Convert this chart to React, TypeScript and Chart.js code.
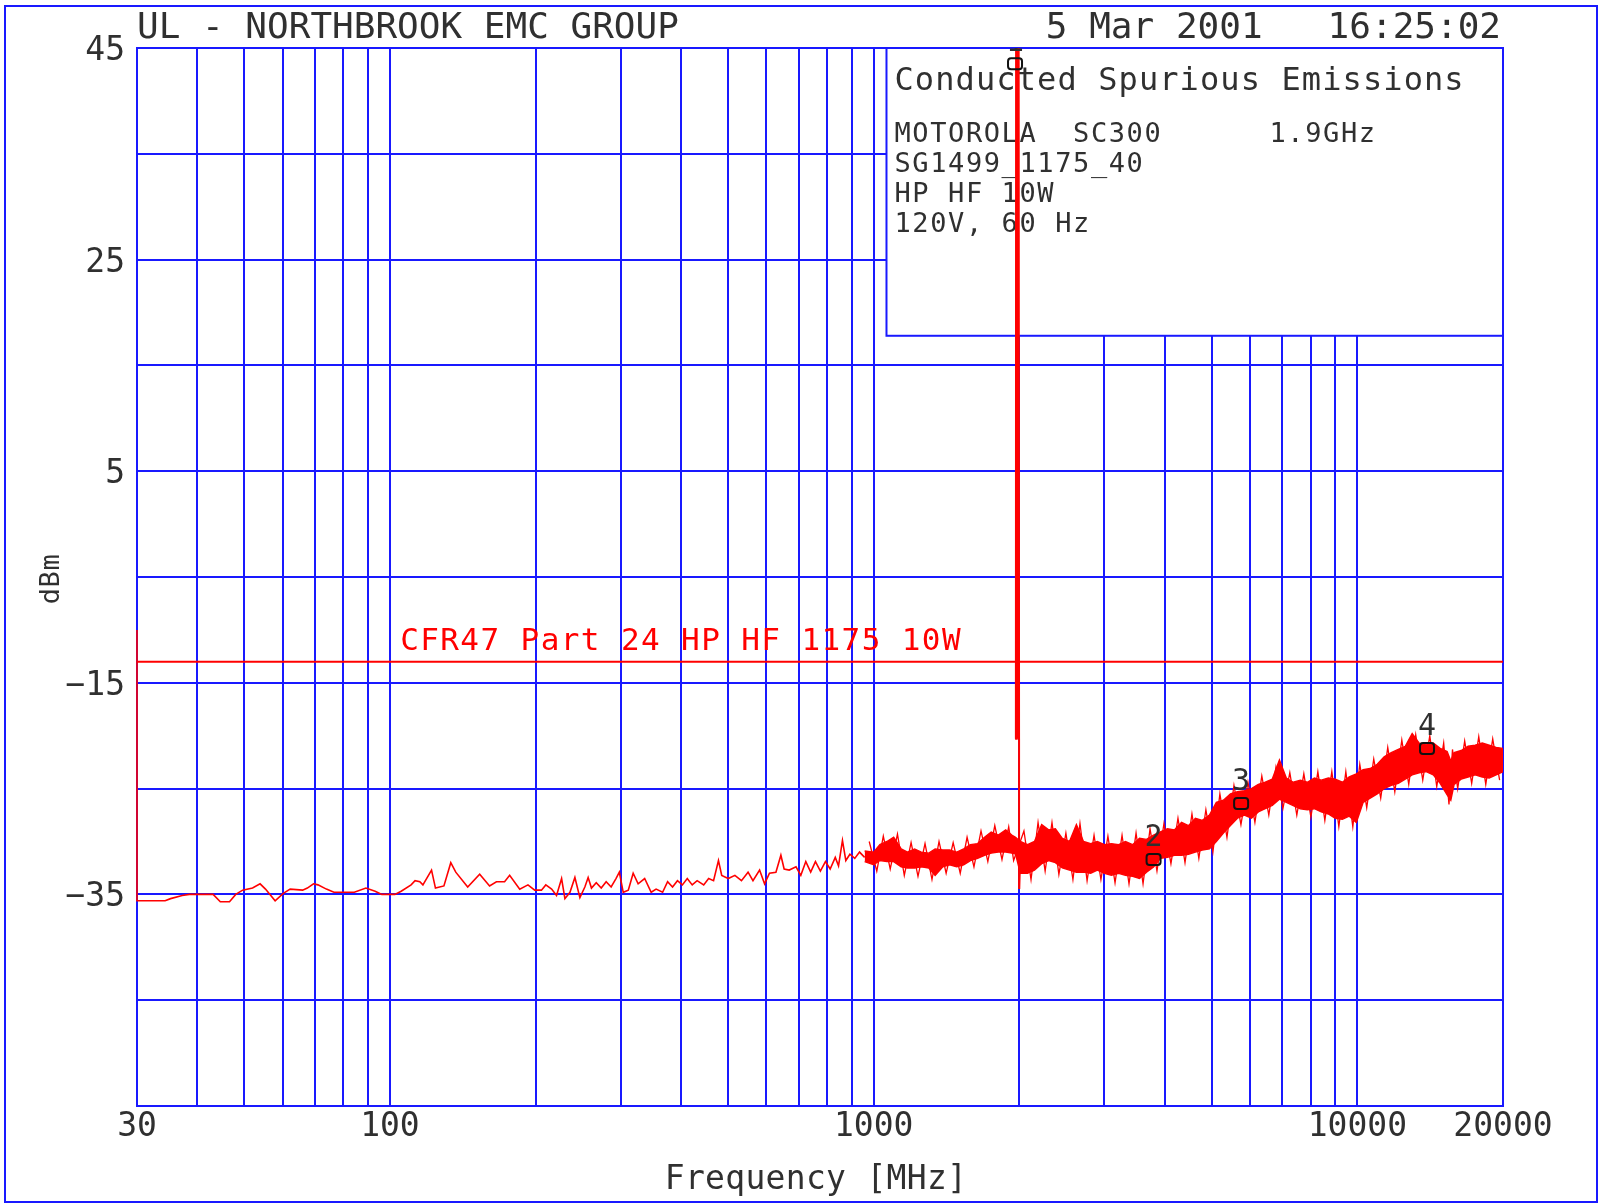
import React, { useEffect, useRef } from 'react';
import { Chart, registerables } from 'chart.js';

Chart.register(...registerables);

// ---------- data ----------
const xGridValues = [30, 40, 50, 60, 70, 80, 90, 100, 200, 300, 400, 500, 600, 700, 800, 900, 1000, 2000, 3000, 4000, 5000, 6000, 7000, 8000, 9000, 10000, 20000];
const yGridValues = [-55, -45, -35, -25, -15, -5, 5, 15, 25, 35, 45];
const xLabelValues = [30, 100, 1000, 10000, 20000];
const yLabelValues = [45, 25, 5, -15, -35];

// sparse part of the sweep (MHz, dBm)
const traceFreq = [30, 30, 34.3, 35.2, 37.2, 38.5, 43.1, 44.6, 46.6, 48, 49.6, 52, 53.9, 55.3, 57.9, 60.2, 62.2, 66, 67.5, 69.5, 71, 73.9, 76.6, 84.4, 89.2, 93.2, 96.2, 102.4, 105.5, 110.6, 112.7, 115.3, 117, 121.9, 124.2, 129.3, 133.6, 136.8, 144.8, 153.3, 160.7, 166, 172.6, 176.8, 185.5, 192.9, 199.2, 205.7, 210, 215.9, 221, 226.4, 230, 235.6, 241.2, 247, 252.9, 256.9, 261, 267, 273.4, 279.9, 286.6, 293.3, 298, 303.6, 311, 318.3, 325.9, 336.2, 346.8, 355, 366.2, 375, 383.9, 393, 402.3, 411.8, 421.6, 431.6, 445.3, 455.9, 466.7, 477.7, 485.2, 500.6, 516.6, 533, 550, 563, 581, 595, 609, 628, 643, 653, 669, 691, 707, 724, 741, 758, 776, 795, 813, 833, 846, 862, 876, 893, 914, 935, 958];
const traceDbm = [-10, -35.6, -35.6, -35.4, -35.1, -35.0, -35.0, -35.7, -35.7, -35.0, -34.6, -34.4, -34.0, -34.5, -35.6, -34.9, -34.5, -34.6, -34.4, -34.0, -34.1, -34.5, -34.8, -34.8, -34.4, -34.7, -35.0, -35.0, -34.7, -34.1, -33.7, -33.8, -34.1, -32.7, -34.4, -34.2, -32.0, -32.9, -34.3, -33.1, -34.2, -33.8, -33.8, -33.2, -34.5, -34.1, -34.6, -34.6, -34.1, -34.5, -35.1, -33.5, -35.4, -34.8, -33.4, -35.3, -34.3, -33.4, -34.4, -33.9, -34.4, -33.8, -34.3, -33.5, -32.9, -34.8, -34.6, -33.0, -34.0, -33.5, -34.8, -34.5, -34.8, -33.8, -34.3, -33.7, -34.1, -33.5, -34.1, -33.7, -34.1, -33.5, -33.7, -31.8, -33.2, -33.5, -33.2, -33.7, -32.9, -33.7, -32.7, -34.0, -33.0, -32.9, -31.3, -32.6, -32.7, -32.4, -33.2, -31.9, -32.9, -31.9, -32.8, -31.9, -32.6, -31.5, -32.3, -29.9, -31.8, -31.2, -31.6, -31.0, -31.5];

// dense part of the sweep: upper and lower edge of the noise band
const envFreq = [958, 1000, 1030, 1065, 1100, 1140, 1175, 1215, 1255, 1300, 1340, 1390, 1435, 1485, 1535, 1585, 1640, 1695, 1750, 1810, 1875, 1930, 1965, 2010, 2080, 2150, 2225, 2300, 2375, 2455, 2540, 2625, 2715, 2810, 2900, 3000, 3100, 3210, 3315, 3430, 3545, 3665, 3790, 3915, 4050, 4185, 4330, 4475, 4625, 4780, 4945, 5110, 5285, 5465, 5650, 5840, 6040, 6240, 6450, 6670, 6900, 7130, 7370, 7620, 7880, 8150, 8420, 8710, 9000, 9310, 9620, 9950, 10280, 10630, 10990, 11360, 11750, 12150, 12560, 12980, 13420, 13880, 14350, 14830, 15330, 15600, 15850, 16390, 16940, 17520, 18120, 18730, 19360, 20000];
const envHigh = [-30.9, -31.0, -30.3, -30.0, -29.6, -30.7, -31.0, -30.7, -31.0, -31.1, -30.7, -30.8, -30.8, -31.0, -30.7, -30.3, -30.2, -29.6, -29.1, -29.4, -28.9, -29.4, -29.6, -30.0, -30.3, -30.0, -28.4, -28.9, -28.8, -29.7, -30.0, -28.4, -30.0, -30.2, -30.0, -30.3, -30.2, -30.3, -30.0, -30.3, -29.7, -29.8, -29.4, -29.1, -28.8, -28.9, -28.2, -28.5, -27.8, -28.0, -27.5, -26.3, -26.1, -25.5, -25.3, -25.2, -25.0, -24.6, -24.4, -24.1, -22.3, -24.0, -24.4, -24.2, -24.4, -24.0, -24.2, -24.0, -24.1, -24.4, -23.9, -23.6, -23.2, -23.1, -22.7, -22.0, -21.6, -21.3, -21.0, -19.8, -20.7, -20.8, -20.7, -21.2, -21.5, -22.4, -21.6, -21.4, -21.0, -20.9, -20.7, -20.9, -21.1, -21.2];
const envLow = [-31.9, -32.2, -31.8, -31.9, -31.9, -32.4, -32.5, -32.5, -32.4, -32.5, -33.2, -32.4, -32.2, -32.4, -32.2, -31.8, -31.6, -31.3, -31.1, -31.0, -31.0, -31.1, -31.2, -33.0, -33.0, -32.7, -32.1, -31.8, -32.0, -32.5, -32.7, -32.9, -32.9, -33.0, -32.7, -33.0, -33.2, -33.0, -33.2, -33.3, -33.5, -32.9, -32.4, -31.6, -31.5, -31.3, -31.3, -31.2, -31.0, -30.8, -30.7, -30.0, -29.2, -28.5, -27.8, -27.5, -27.8, -27.2, -26.9, -26.6, -26.0, -26.3, -26.6, -26.9, -27.0, -26.9, -27.2, -27.4, -27.8, -27.9, -27.6, -28.2, -26.3, -25.9, -25.5, -25.0, -24.7, -24.5, -24.1, -23.7, -23.5, -23.4, -23.7, -24.5, -25.6, -26.1, -24.6, -24.1, -23.9, -23.7, -23.9, -24.0, -23.7, -23.4];

// ragged noise peaks that stick out of the band
const noiseFreq = [979, 1015, 1047, 1082, 1120, 1157, 1195, 1235, 1277, 1320, 1365, 1412, 1460, 1510, 1560, 1612, 1667, 1722, 1780, 1842, 1902, 1947, 2045, 2115, 2187, 2262, 2337, 2415, 2497, 2582, 2670, 2762, 2855, 2950, 3050, 3155, 3262, 3372, 3487, 3605, 3727, 3852, 3982, 4117, 4257, 4402, 4550, 4702, 4862, 5027, 5197, 5375, 5557, 5745, 5940, 6140, 6345, 6560, 6785, 7015, 7250, 7495, 7750, 8015, 8285, 8565, 8855, 9155, 9465, 9785, 10115, 10455, 10810, 11175, 11555, 11950, 12355, 12770, 13200, 13650, 14115, 14590, 15080, 15465, 15725, 16120, 16665, 17230, 17820, 18425, 19045, 19680];
const noiseDbm = [-30.0, -32.8, -29.5, -32.6, -29.3, -33.2, -30.1, -33.3, -30.2, -33.6, -30.0, -33.0, -30.1, -33.0, -29.6, -32.4, -29.0, -31.9, -28.5, -31.7, -28.6, -31.8, -29.0, -33.6, -28.2, -32.8, -28.2, -33.1, -29.2, -33.6, -28.3, -33.7, -29.4, -33.6, -29.5, -33.9, -29.4, -34.0, -29.2, -34.0, -28.8, -32.8, -28.3, -32.1, -27.8, -32.0, -27.4, -31.6, -27.0, -31.0, -25.5, -29.6, -24.7, -28.4, -24.4, -28.2, -23.8, -27.5, -23.0, -26.9, -23.5, -27.5, -23.6, -27.7, -23.4, -28.0, -23.4, -28.6, -23.4, -28.6, -22.7, -26.8, -22.2, -25.9, -21.1, -25.3, -20.4, -24.6, -19.9, -24.2, -20.0, -24.8, -20.7, -26.5, -21.3, -25.0, -20.5, -24.5, -20.1, -24.6, -20.3, -24.2];

// carrier spike (listed from its thin lower leg up into the clipped peak)
const spikeFreq = [2010, 2000, 1998, 1994, 1988, 1982, 1976, 1970, 1968];
const spikeDbm = [-31.0, -34.4, -20.3, 48, -20.3, 48, -20.3, 48, -20.3];

// limit line
const limitFreq = [30, 20000];
const limitDbm = [-13, -13];
const limitLabel = 'CFR47 Part 24 HP HF 1175 10W';
const limitLabelFreq = 105;

// markers
const markerFreq = [1960, 3790, 5750, 13930];
const markerDbm = [43.5, -31.7, -26.4, -21.2];
const markerLabels = ['1', '2', '3', '4'];

// texts
const headerLeft = 'UL - NORTHBROOK EMC GROUP';
const headerRight = '5 Mar 2001   16:25:02';
const boxTitle = 'Conducted Spurious Emissions';
const boxLines = ['MOTOROLA  SC300      1.9GHz', 'SG1499_1175_40', 'HP HF 10W', '120V, 60 Hz'];
const xTitle = 'Frequency [MHz]';
const yTitle = 'dBm';
const boxMinFreq = 1063;
const boxMinDbm = 17.8;

const BLUE = 'rgb(25,25,255)';
const RED = 'rgb(255,0,0)';
const INK = '#303030';
const MONO = '"DejaVu Sans Mono", "Liberation Mono", monospace';

const minus = (s: string) => s.replace('-', '\u2212');

export default function App() {
  const ref = useRef<HTMLCanvasElement>(null);

  useEffect(() => {
    document.body.style.margin = '0';
    document.body.style.overflow = 'hidden';
    const canvas = ref.current!;
    const pts = (f: number[], d: number[]) => f.map((v, i) => ({ x: v, y: d[i] }));

    const setFont = (ctx: any, size: number, spacing: number) => {
      ctx.font = `${size}px ${MONO}`;
      ctx.letterSpacing = `${spacing}px`;
    };

    const overlay = {
      id: 'overlay',
      beforeDatasetsDraw(chart: any) {
        const { ctx, chartArea: a, scales } = chart;
        const x = scales.x, y = scales.y;
        const bl = x.getPixelForValue(boxMinFreq);
        const bb = y.getPixelForValue(boxMinDbm);
        ctx.save();
        ctx.fillStyle = '#ffffff';
        ctx.fillRect(bl, a.top, a.right - bl, bb - a.top);
        ctx.strokeStyle = BLUE;
        ctx.lineWidth = 2;
        ctx.strokeRect(bl, a.top, a.right - bl, bb - a.top);
        ctx.fillStyle = INK;
        ctx.textAlign = 'left';
        ctx.textBaseline = 'alphabetic';
        setFont(ctx, 32, 1.1);
        ctx.fillText(boxTitle, bl + 8, a.top + 42);
        setFont(ctx, 27, 1.6);
        boxLines.forEach((t, i) => ctx.fillText(t, bl + 8, a.top + 94 + i * 30));
        ctx.restore();
      },
      afterDraw(chart: any) {
        const { ctx, chartArea: a, scales } = chart;
        const x = scales.x, y = scales.y;
        ctx.save();
        // page frame
        ctx.strokeStyle = BLUE;
        ctx.lineWidth = 2;
        ctx.strokeRect(5, 6, 1592, 1196);

        ctx.fillStyle = INK;
        // header
        setFont(ctx, 36, 0);
        ctx.textBaseline = 'alphabetic';
        ctx.textAlign = 'left';
        ctx.fillText(headerLeft, a.left, 38);
        ctx.textAlign = 'right';
        ctx.fillText(headerRight, a.right - 2, 38);

        // y tick labels
        setFont(ctx, 33, 0);
        ctx.textAlign = 'right';
        yLabelValues.forEach((v) => {
          ctx.fillText(minus(String(v)), a.left - 12, y.getPixelForValue(v) + 12);
        });
        // x tick labels
        ctx.textAlign = 'center';
        xLabelValues.forEach((v) => {
          ctx.fillText(String(v), x.getPixelForValue(v), a.bottom + 30);
        });
        // axis titles
        setFont(ctx, 33, 0.3);
        ctx.fillText(xTitle, 816, 1189);
        ctx.save();
        ctx.translate(52, 579);
        ctx.rotate(-Math.PI / 2);
        setFont(ctx, 27, 0.5);
        ctx.textAlign = 'center';
        ctx.textBaseline = 'middle';
        ctx.fillText(yTitle, 0, 0);
        ctx.restore();

        // limit label
        ctx.fillStyle = RED;
        setFont(ctx, 31, 1.4);
        ctx.textAlign = 'left';
        ctx.textBaseline = 'alphabetic';
        ctx.fillText(limitLabel, x.getPixelForValue(limitLabelFreq), y.getPixelForValue(limitDbm[0]) - 12);

        // markers
        ctx.beginPath();
        ctx.rect(a.left, a.top, a.right - a.left, a.bottom - a.top);
        ctx.clip();
        ctx.strokeStyle = '#111111';
        ctx.fillStyle = INK;
        ctx.lineWidth = 2;
        setFont(ctx, 30, 0);
        ctx.textAlign = 'center';
        markerFreq.forEach((f, i) => {
          const px = x.getPixelForValue(f);
          const py = y.getPixelForValue(markerDbm[i]);
          ctx.beginPath();
          if (ctx.roundRect) ctx.roundRect(px - 7, py - 5.5, 14, 11, 3);
          else ctx.rect(px - 7, py - 5.5, 14, 11);
          ctx.stroke();
          ctx.fillText(markerLabels[i], px, py - 13);
        });
        ctx.restore();
      },
    };

    const line = (f: number[], d: number[], w: number, extra: any = {}) => ({
      data: pts(f, d), borderColor: RED, borderWidth: w, pointRadius: 0, fill: false, ...extra,
    });

    const chart = new Chart(canvas, {
      type: 'line',
      data: {
        datasets: [
          line(traceFreq, traceDbm, 1.6, { clip: 4 }),
          line(envFreq, envHigh, 1.4),
          line(envFreq, envLow, 1.4, { fill: '-1', backgroundColor: RED }),
          line(noiseFreq, noiseDbm, 1.3),
          line(spikeFreq, spikeDbm, 2),
          line(limitFreq, limitDbm, 2),
        ] as any,
      },
      options: {
        responsive: false,
        maintainAspectRatio: false,
        animation: false,
        events: [],
        layout: { padding: { left: 137, right: 98, top: 48, bottom: 98 } },
        plugins: {
          legend: { display: false },
          tooltip: { enabled: false },
          title: { display: false },
        },
        scales: {
          x: {
            type: 'logarithmic',
            min: 30,
            max: 20000,
            afterBuildTicks: (s: any) => {
              s.ticks = xGridValues.map((v) => ({ value: v }));
            },
            ticks: { display: false },
            grid: { color: BLUE, lineWidth: 2, drawTicks: false },
            border: { color: BLUE, width: 2 },
          },
          y: {
            type: 'linear',
            min: -55,
            max: 45,
            afterBuildTicks: (s: any) => {
              s.ticks = yGridValues.map((v) => ({ value: v }));
            },
            ticks: { display: false },
            grid: { color: BLUE, lineWidth: 2, drawTicks: false },
            border: { color: BLUE, width: 2 },
          },
        },
      } as any,
      plugins: [overlay],
    });
    return () => chart.destroy();
  }, []);

  return <canvas ref={ref} width={1601} height={1204} style={{ display: 'block' }} />;
}
